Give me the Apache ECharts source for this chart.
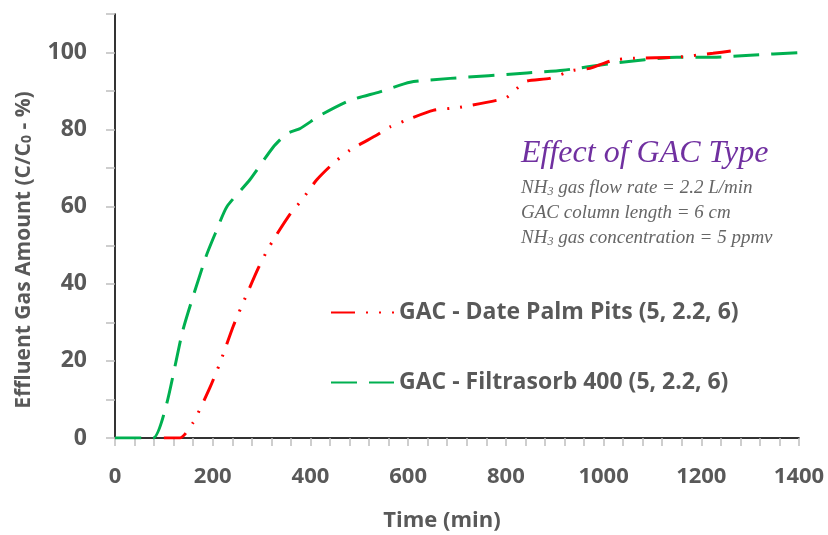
<!DOCTYPE html>
<html>
<head>
<meta charset="utf-8">
<script src="https://cdn.jsdelivr.net/npm/echarts@6/dist/echarts.min.js"></script>
<style>
  html, body { margin: 0; padding: 0; background: #fff; }
  #main { width: 828px; height: 535px; }
</style>
</head>
<body>
<div id="main"></div>
<script>
// Date Palm Pits GAC (red) - time (min) and C/C0 (%)
var timeDatePalm = [100, 133, 160, 194, 215, 242, 262, 293, 313, 329, 358, 382, 413, 447, 481, 536, 563, 607, 651, 706, 781, 802, 823, 843, 890, 938, 972, 1019, 1060, 1150, 1224, 1262];
var effDatePalm  = [0, 0, 4, 13, 19.5, 29, 35, 44, 49, 52.4, 58, 61.7, 67, 71.3, 74.7, 78.6, 80.7, 83, 85, 85.8, 87.6, 88.4, 90.7, 92.6, 93.3, 95.4, 95.9, 98, 98.5, 98.8, 99.8, 100.4];

// Filtrasorb 400 GAC (green)
var timeFiltrasorb = [0, 78, 106, 139, 186, 205, 229, 276, 324, 352, 379, 420, 481, 542, 604, 686, 843, 917, 1019, 1150, 1224, 1300, 1400];
var effFiltrasorb  = [0, 0, 9, 28, 47, 53, 60, 67, 75.5, 79, 80.3, 83.7, 87.6, 89.8, 92.3, 93.3, 94.7, 95.4, 97.2, 98.8, 98.8, 99.3, 100];

var seriesNames = ['GAC - Date Palm Pits (5, 2.2, 6)', 'GAC - Filtrasorb 400 (5, 2.2, 6)'];
var xLabels = [0, 200, 400, 600, 800, 1000, 1200, 1400];
var yLabels = [0, 20, 40, 60, 80, 100];

function pairs(xs, ys) {
  var out = [];
  for (var i = 0; i < xs.length; i++) out.push([xs[i], ys[i]]);
  return out;
}

var labelFont = 'Open Sans';
var gray = '#595959';
var noteGray = '#666';

var chart = echarts.init(document.getElementById('main'), null, { renderer: 'canvas' });

var option = {
  backgroundColor: '#fff',
  animation: false,
  grid: { left: 115, right: 29, top: 14, bottom: 97 },
  legend: {
    orient: 'vertical',
    left: 325,
    top: 295,
    itemWidth: 63,
    itemHeight: 14,
    itemGap: 45,
    data: seriesNames,
    itemStyle: { opacity: 0 },
    textStyle: { fontFamily: labelFont, fontSize: 23, fontWeight: 'bold', color: gray, lineHeight: 25 }
  },
  xAxis: [
    {
      type: 'value',
      min: 0,
      max: 1400,
      interval: 40,
      axisLine: { show: true, lineStyle: { color: '#bfbfbf', width: 1.5 } },
      axisTick: { show: true, length: 8, lineStyle: { color: '#bfbfbf', width: 1.5 } },
      splitLine: { show: false },
      axisLabel: {
        margin: 28,
        fontFamily: labelFont, fontSize: 22, fontWeight: 'bold', color: gray,
        formatter: function (v) { return xLabels.indexOf(v) >= 0 ? String(v) : ''; }
      }
    },
    {
      type: 'value', position: 'top', min: 0, max: 1400,
      axisLine: { show: true, lineStyle: { color: '#000', width: 1.5 } },
      axisTick: { show: false }, axisLabel: { show: false }, splitLine: { show: false }
    }
  ],
  yAxis: [
    {
      type: 'value',
      min: 0,
      max: 110,
      interval: 10,
      axisLine: { show: true, lineStyle: { color: '#bfbfbf', width: 1.5 } },
      axisTick: { show: true, length: 9, lineStyle: { color: '#bfbfbf', width: 1.5 } },
      splitLine: { show: false },
      axisLabel: {
        margin: 28,
        fontFamily: labelFont, fontSize: 23, fontWeight: 'bold', color: gray,
        formatter: function (v) { return yLabels.indexOf(v) >= 0 ? String(v) : ''; }
      }
    },
    {
      type: 'value', position: 'right', min: 0, max: 110,
      axisLine: { show: true, lineStyle: { color: '#000', width: 1.5 } },
      axisTick: { show: false }, axisLabel: { show: false }, splitLine: { show: false }
    }
  ],
  series: [
    {
      name: seriesNames[0],
      type: 'line',
      symbol: 'none',
      smooth: 0.2,
      data: pairs(timeDatePalm, effDatePalm),
      itemStyle: { color: '#ff0000' },
      lineStyle: { color: '#ff0000', width: 3, type: [24, 11, 2, 11, 2, 11] },
      z: 3
    },
    {
      name: seriesNames[1],
      type: 'line',
      symbol: 'none',
      smooth: 0.2,
      data: pairs(timeFiltrasorb, effFiltrasorb),
      itemStyle: { color: '#00b050' },
      lineStyle: { color: '#00b050', width: 3, type: [26, 12] },
      z: 2
    }
  ],
  graphic: [
    {
      type: 'text',
      x: 24, y: 250,
      rotation: Math.PI / 2,
      style: {
        text: '{a|Effluent Gas Amount (C/C}{s|0}{a| - %)}',
        align: 'center', verticalAlign: 'middle',
        rich: {
          a: { fontFamily: labelFont, fontSize: 21, fontWeight: 'bold', fill: gray, verticalAlign: 'bottom' },
          s: { fontFamily: labelFont, fontSize: 14, fontWeight: 'bold', fill: gray, verticalAlign: 'bottom' }
        }
      }
    },
    {
      type: 'text',
      x: 442, y: 521,
      style: {
        text: 'Time (min)',
        align: 'center', verticalAlign: 'middle',
        fontFamily: labelFont, fontSize: 22, fontWeight: 'bold', fill: gray
      }
    },
    {
      type: 'text',
      x: 521, y: 154,
      style: {
        text: 'Effect of GAC Type',
        align: 'left', verticalAlign: 'middle',
        fontFamily: 'Liberation Serif', fontStyle: 'italic', fontSize: 32, fill: '#7030a0'
      }
    },
    {
      type: 'text',
      x: 521, y: 188,
      style: {
        text: '{a|NH}{s|3}{a| gas flow rate = 2.2 L/min}',
        align: 'left', verticalAlign: 'middle',
        rich: {
          a: { fontFamily: 'Liberation Serif', fontStyle: 'italic', fontSize: 19, fill: noteGray, verticalAlign: 'bottom' },
          s: { fontFamily: 'Liberation Serif', fontStyle: 'italic', fontSize: 12, fill: noteGray, verticalAlign: 'bottom' }
        }
      }
    },
    {
      type: 'text',
      x: 521, y: 213,
      style: {
        text: 'GAC column length = 6 cm',
        align: 'left', verticalAlign: 'middle',
        fontFamily: 'Liberation Serif', fontStyle: 'italic', fontSize: 19, fill: noteGray
      }
    },
    {
      type: 'text',
      x: 521, y: 238,
      style: {
        text: '{a|NH}{s|3}{a| gas concentration = 5 ppmv}',
        align: 'left', verticalAlign: 'middle',
        rich: {
          a: { fontFamily: 'Liberation Serif', fontStyle: 'italic', fontSize: 19, fill: noteGray, verticalAlign: 'bottom' },
          s: { fontFamily: 'Liberation Serif', fontStyle: 'italic', fontSize: 12, fill: noteGray, verticalAlign: 'bottom' }
        }
      }
    }
  ]
};

chart.setOption(option);
</script>
</body>
</html>
